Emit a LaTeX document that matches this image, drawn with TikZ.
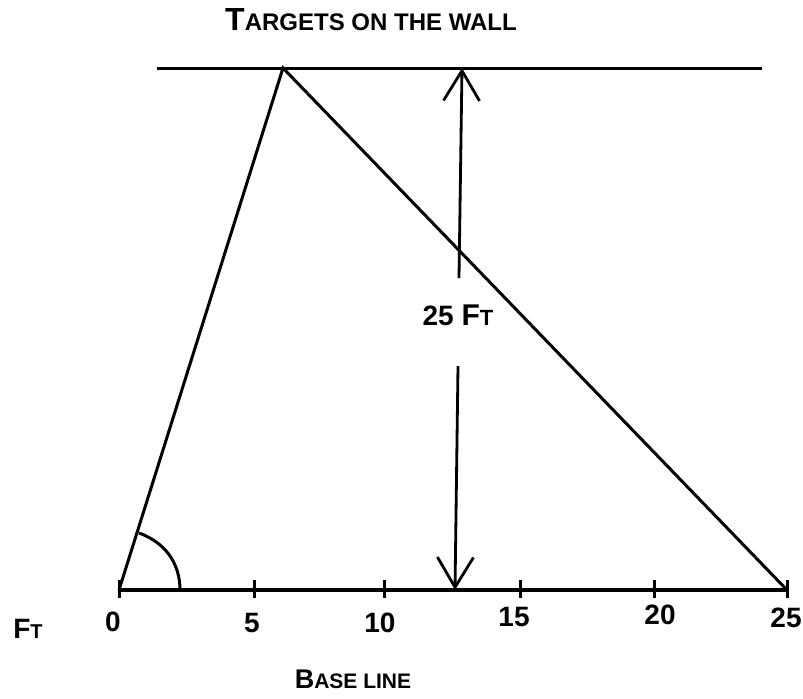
\documentclass[tikz,border=0pt]{standalone}
\usepackage{fontspec}
\setmainfont{Liberation Sans}
\usetikzlibrary{arrows.meta}
\newcommand{\capsc}[4]{{\fontsize{#1}{#1}\selectfont #3}{\fontsize{#2}{#2}\selectfont #4}}
\begin{document}
\begin{tikzpicture}[x=0.5pt,y=-0.5pt,
  line/.style={line width=1.5pt},
  dimarrow/.style={line width=1.4pt,-{Straight Barb[length=15pt,width=18pt,line width=1.4pt]}},
  lbl/.style={inner sep=0pt,font=\bfseries\fontsize{14}{16}\selectfont}]
\useasboundingbox (0,0) rectangle (803,698);
% wall, base line and the two lines to the target
\coordinate (wl) at (157,68); \coordinate (wr) at (762,68);
\coordinate (apex) at (283,68);
\coordinate (b0) at (119,590); \coordinate (b25) at (787,590);
\draw[line] (wl) -- (wr);
\draw[line width=1.9pt] (b0) -- (b25);
\draw[line] (b0) -- (apex) -- (b25);
% angle at the origin
\coordinate (arcA) at (139,533); \coordinate (arcB) at (180,590);
\draw[line] (arcA) .. controls (164,542) and (180,562) .. (arcB);
% ticks and their numbers
\foreach \x/\lx/\ly/\t in {119/113/622/0,254/252/623/5,384/380/623/10,520/514/617/15,654/660/615/20,787/786/618/25}{
\draw[line] (\x,580) -- (\x,598);
\node[lbl] (t\t) at (\lx,\ly) {\t};
}
% 25 ft distance
\coordinate (wtop) at (462,68); \coordinate (utop) at (459,278);
\coordinate (lbot) at (458,366); \coordinate (bpt) at (455,590);
\draw[dimarrow] (utop) -- (wtop);
\draw[dimarrow] (lbot) -- (bpt);
\node[lbl] (dist) at (458,315) {25 \capsc{15}{11}{F}{T}};
% labels
\node[lbl] (title) at (371,20) {\capsc{16}{12}{T}{ARGETS ON THE WALL}};
\node[lbl] (unit) at (28,629) {\capsc{14}{10}{F}{T}};
\node[lbl] (base) at (353,679) {\capsc{13.5}{10.5}{B}{ASE LINE}};
\end{tikzpicture}
\end{document}
